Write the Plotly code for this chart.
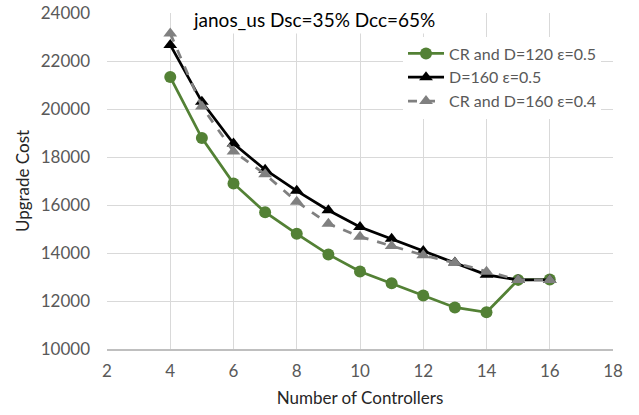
import plotly.graph_objects as go

controllers = [4, 5, 6, 7, 8, 9, 10, 11, 12, 13, 14, 15, 16]
cr_d120_e05 = [21330, 18790, 16900, 15700, 14800, 13940, 13230, 12740, 12230, 11730, 11530, 12880, 12900]
d160_e05 = [22670, 20300, 18560, 17470, 16590, 15780, 15080, 14590, 14080, 13600, 13090, 12880, 12880]
cr_d160_e04 = [23150, 20100, 18230, 17280, 16140, 15220, 14680, 14290, 13910, 13590, 13220, 12880, 12880]

title_text = "janos_us Dsc=35% Dcc=65%"
x_ticks = [2, 4, 6, 8, 10, 12, 14, 16, 18]
y_ticks = [10000, 12000, 14000, 16000, 18000, 20000, 22000, 24000]
y_tick_labels = ["10000", "12000", "14000", "16000", "18000", "20000", "22000", "24000"]

FONT = "Lato, 'Open Sans', sans-serif"

fig = go.Figure()
fig.add_trace(go.Scatter(
    x=controllers, y=cr_d120_e05, name="CR and D=120 ε=0.5", mode="lines+markers",
    line=dict(color="#538135", width=2.75),
    marker=dict(symbol="circle", size=12, color="#538135"),
))
fig.add_trace(go.Scatter(
    x=controllers, y=d160_e05, name="D=160 ε=0.5", mode="lines+markers",
    line=dict(color="#000000", width=2.75),
    marker=dict(symbol="triangle-up", size=12, color="#000000"),
))
fig.add_trace(go.Scatter(
    x=controllers, y=cr_d160_e04, name="CR and D=160 ε=0.4", mode="lines+markers",
    line=dict(color="#808080", width=2.75, dash="dash"),
    marker=dict(symbol="triangle-up", size=12, color="#808080"),
))

fig.add_annotation(
    text=title_text, xref="paper", yref="paper", x=0.41, y=1.0,
    xanchor="center", yanchor="middle", yshift=-6, showarrow=False,
    font=dict(family=FONT, size=19, color="#000000"),
    bgcolor="white", borderpad=2,
)

fig.update_layout(
    width=639, height=415,
    margin=dict(l=107, r=26, t=13, b=66, autoexpand=False),
    paper_bgcolor="white", plot_bgcolor="white",
    font=dict(family=FONT, size=16, color="#595959"),
    showlegend=True,
    legend=dict(
        x=0.585, y=0.93, xanchor="left", yanchor="top",
        bgcolor="white", font=dict(family=FONT, size=16, color="#595959"),
        tracegroupgap=0, itemwidth=36,
    ),
    xaxis=dict(
        range=[2, 18], tickvals=x_ticks, showgrid=True, gridcolor="#d9d9d9",
        gridwidth=1, zeroline=False, showline=True, linecolor="#bfbfbf",
        linewidth=1.5, ticks="", automargin=False, tickfont=dict(size=17),
        ticklabelstandoff=6,
        title=dict(text="Number of Controllers", font=dict(size=17, color="#262626"), standoff=12),
    ),
    yaxis=dict(
        range=[10000, 24000], tickvals=y_ticks, ticktext=y_tick_labels,
        showgrid=True, gridcolor="#d9d9d9",
        gridwidth=1, zeroline=False, showline=False, ticks="", automargin=False,
        tickfont=dict(size=17), ticklabelstandoff=16,
        title=dict(text="Upgrade Cost", font=dict(size=17, color="#262626"), standoff=6),
    ),
)

fig.write_html("out.html")
